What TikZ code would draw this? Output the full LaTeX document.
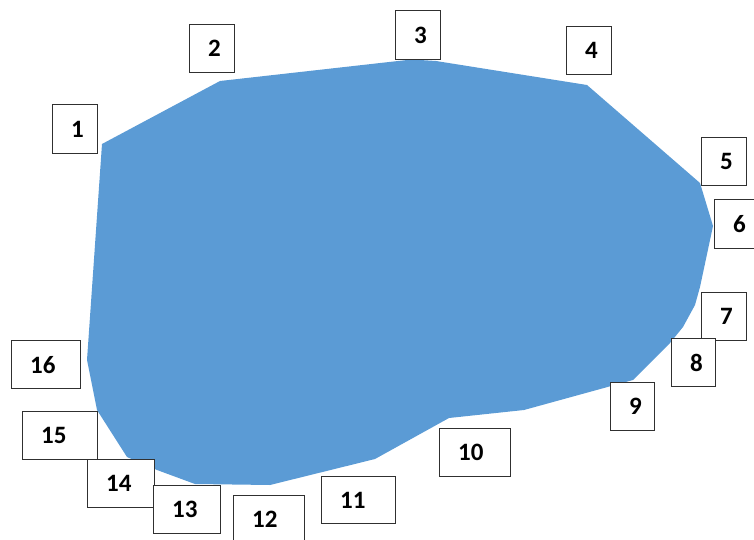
\documentclass[tikz,border=0pt]{standalone}
\usepackage{fontspec}
\setmainfont{Carlito}
\definecolor{lakeblue}{HTML}{5B9BD5}
\definecolor{boxline}{HTML}{303030}
\begin{document}
\begin{tikzpicture}[x=1pt,y=-1pt,
  lbl/.style={draw=boxline, line width=1.4pt, fill=white, anchor=north west,
    inner xsep=0pt, inner ysep=0pt, text width=#1, align=left,
    minimum height=48pt, font=\fontsize{25}{29}\selectfont\bfseries,
    execute at begin node={\hspace*{18.5pt}}}]
\useasboundingbox (0,0) rectangle (754,540);
% polygon
\fill[lakeblue] (102,144) -- (220,81) -- (398,61) -- (412,59.5) -- (436,61) -- (587,85) -- (700,183)
  -- (713,226) -- (700,287) -- (695,305) -- (683,327) -- (670,343)
  -- (633,380) -- (524,410) -- (449,418) -- (375,459) -- (270,485)
  -- (195,484) -- (157,470) -- (127,457) -- (97,410) -- (87,360) -- cycle;
% labels
\node[lbl=45pt, minimum height=49pt] (n1) at (52,104) {1};
\node[lbl=45pt] (n2) at (189,24) {2};
\node[lbl=45pt, minimum height=49pt] (n3) at (395,10) {3};
\node[lbl=45pt] (n4) at (566,26) {4};
\node[lbl=45pt] (n5) at (701,137) {5};
\node[lbl=46pt, minimum height=49pt] (n6) at (714,199) {6};
\node[lbl=45pt] (n7) at (701,292) {7};
\node[lbl=44pt] (n8) at (671,338) {8};
\node[lbl=44pt] (n9) at (610,382) {9};
\node[lbl=71pt] (n10) at (439,428) {10};
\node[lbl=74pt, minimum height=47pt] (n11) at (321,476) {11};
\node[lbl=71pt] (n12) at (233,495) {12};
\node[lbl=67pt] (n14) at (87,459) {14};
\node[lbl=67pt] (n13) at (153,485) {13};
\node[lbl=75pt] (n15) at (22,411) {15};
\node[lbl=69pt] (n16) at (11,340) {16};
\end{tikzpicture}
\end{document}
